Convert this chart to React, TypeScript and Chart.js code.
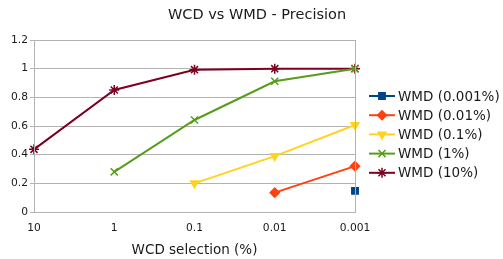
import React, { useEffect, useRef } from "react";
import { Chart, registerables } from "chart.js";
import { drawPoint } from "chart.js/helpers";

Chart.register(...registerables);

const categories = ["10", "1", "0.1", "0.01", "0.001"];
const seriesNames = ["WMD (0.001%)", "WMD (0.01%)", "WMD (0.1%)", "WMD (1%)", "WMD (10%)"];
const wmd0001 = [null, null, null, null, 0.147];
const wmd001 = [null, null, null, 0.135, 0.32];
const wmd01 = [null, null, 0.2, 0.39, 0.607];
const wmd1 = [null, 0.28, 0.642, 0.912, 1.0];
const wmd10 = [0.437, 0.851, 0.993, 1.0, 1.0];
const yTicks = [0, 0.2, 0.4, 0.6, 0.8, 1, 1.2];

const colors = ["#004586", "#ff420e", "#ffd320", "#579d1c", "#7e0021"];
const styles: any[] = [
  { pointStyle: "rect", rotation: 0, radius: 4.5 },
  { pointStyle: "rectRot", rotation: 0, radius: 4.5 },
  { pointStyle: "triangle", rotation: 180, radius: 4.5 },
  { pointStyle: "crossRot", rotation: 0, radius: 5 },
  { pointStyle: "star", rotation: 0, radius: 5 },
];

const FONT = "'DejaVu Sans', sans-serif";

export default function App() {
  const ref = useRef<HTMLCanvasElement>(null);
  useEffect(() => {
    document.body.style.margin = "0";
    const values = [wmd0001, wmd001, wmd01, wmd1, wmd10];
    const datasets = values.map((v, i) => ({
      label: seriesNames[i],
      data: v,
      borderColor: colors[i],
      backgroundColor: colors[i],
      borderWidth: 2,
      pointStyle: styles[i].pointStyle,
      pointRotation: styles[i].rotation,
      pointRadius: styles[i].radius,
      pointBorderWidth: 1.5,
      pointHoverRadius: styles[i].radius,
      tension: 0,
    }));

    const extras = {
      id: "extras",
      afterDraw(chart: any) {
        const ctx = chart.ctx;
        const a = chart.chartArea;
        ctx.save();
        ctx.strokeStyle = "#b3b3b3";
        ctx.lineWidth = 1;
        ctx.strokeRect(Math.round(a.left) + 0.5, Math.round(a.top) + 0.5, Math.round(a.right - a.left), Math.round(a.bottom - a.top));
        ctx.fillStyle = "#1a1a1a";
        ctx.font = `14.5px ${FONT}`;
        ctx.textAlign = "center";
        ctx.textBaseline = "middle";
        ctx.fillText("WCD vs WMD - Precision", 257, 15);
        ctx.font = `13.5px ${FONT}`;
        ctx.textAlign = "left";
        chart.data.datasets.forEach((ds: any, i: number) => {
          const y = 96 + i * 19.2;
          ctx.strokeStyle = ds.borderColor;
          ctx.fillStyle = ds.borderColor;
          ctx.lineWidth = 2;
          ctx.beginPath();
          ctx.moveTo(369, y);
          ctx.lineTo(395, y);
          ctx.stroke();
          ctx.lineWidth = 1.5;
          drawPoint(ctx, { pointStyle: styles[i].pointStyle, rotation: styles[i].rotation, radius: styles[i].radius, borderWidth: 1.5 } as any, 382, y);
          ctx.fillStyle = "#1a1a1a";
          ctx.fillText(ds.label, 398, y + 1);
        });
        ctx.restore();
      },
    };

    const chart = new Chart(ref.current!, {
      type: "line",
      data: { labels: categories, datasets: datasets as any },
      plugins: [extras],
      options: {
        animation: false,
        responsive: true,
        maintainAspectRatio: false,
        layout: { padding: { top: 40, right: 148, left: 0, bottom: 0 } },
        plugins: { legend: { display: false }, title: { display: false }, tooltip: { enabled: false } },
        scales: {
          x: {
            type: "category",
            offset: false,
            grid: { display: false },
            border: { display: false },
            ticks: { color: "#1a1a1a", font: { family: FONT, size: 10.7 }, padding: 2, maxRotation: 0, autoSkip: false },
            title: { display: true, text: "WCD selection (%)", color: "#1a1a1a", font: { family: FONT, size: 13.5 }, padding: { top: 0, bottom: 0 } },
            afterFit: (s: any) => { s.height = 47; },
          },
          y: {
            min: 0,
            max: 1.2,
            afterBuildTicks: (s: any) => { s.ticks = yTicks.map((v) => ({ value: v })); },
            grid: { color: "#b3b3b3", tickLength: 4, lineWidth: 1 },
            border: { display: false },
            ticks: {
              color: "#1a1a1a",
              font: { family: FONT, size: 10.7 },
              padding: 2,
              callback: (v: any) => String(Number(Number(v).toFixed(1))),
            },
            afterFit: (s: any) => { s.width = 34; },
          },
        },
      },
    });
    return () => chart.destroy();
  }, []);
  return (
    <div style={{ width: 503, height: 259, position: "relative" }}>
      <canvas ref={ref} />
    </div>
  );
}
